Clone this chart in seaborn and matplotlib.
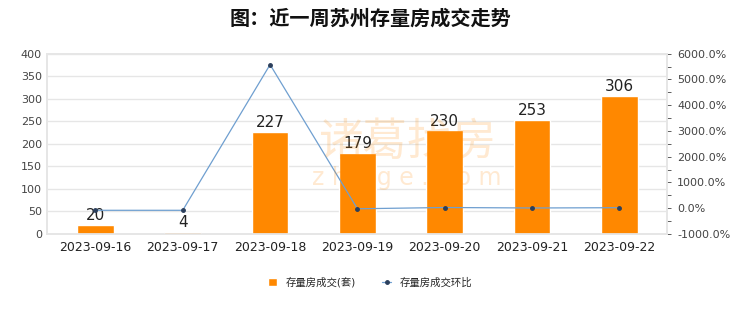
import numpy as np
import pandas as pd
import seaborn as sns
import matplotlib.pyplot as plt
from matplotlib.ticker import MultipleLocator, FuncFormatter

# data
dates = ['2023-09-16', '2023-09-17', '2023-09-18', '2023-09-19',
         '2023-09-20', '2023-09-21', '2023-09-22']
volume = [20, 4, 227, 179, 230, 253, 306]
mom_pct = [-80.0, -80.0, 5575.0, -21.1, 28.5, 10.0, 20.9]

sns.set_theme(style='white')
plt.rcParams['font.family'] = ['DejaVu Sans', 'Noto Sans CJK SC']

df = pd.DataFrame({'date': dates, 'volume': volume, 'mom': mom_pct})

BAR_CLR = '#ff8800'
LINE_CLR = '#6f9fd0'

fig = plt.figure(figsize=(7.4, 3.12), dpi=100)
ax = fig.add_axes([0.064, 0.25, 0.838, 0.578])

sns.barplot(data=df, x='date', y='volume', color=BAR_CLR, width=0.42,
            saturation=1, ax=ax, zorder=3, label='存量房成交(套)')
for i, v in enumerate(volume):
    ax.text(i, v + 4, str(v), ha='center', va='bottom', fontsize=11,
            color='#222222', zorder=5)

ax.set_ylim(0, 400)
ax.yaxis.set_major_locator(MultipleLocator(50))
ax.grid(axis='y', color='#e6e6e6', linewidth=1, zorder=0)
ax.set_xlabel('')
ax.set_ylabel('')
ax.tick_params(axis='x', labelsize=9, colors='#222222', length=0, pad=5)
ax.tick_params(axis='y', labelsize=8, colors='#444444', length=0, pad=4)
for s in ax.spines.values():
    s.set_color('#e6e6e6')

ax2 = ax.twinx()
ax2.plot(range(len(dates)), mom_pct, color=LINE_CLR, linewidth=0.9,
         marker='o', markersize=2.5, markerfacecolor='#2b3f5c',
         markeredgecolor='#2b3f5c', zorder=4, label='存量房成交环比')
ax2.set_ylim(-1000, 6000)
ax2.yaxis.set_major_locator(MultipleLocator(1000))
ax2.yaxis.set_minor_locator(MultipleLocator(500))
ax2.yaxis.set_major_formatter(FuncFormatter(lambda v, p: f'{v:.1f}%'))
ax2.tick_params(axis='y', which='major', labelsize=8, colors='#444444',
                length=3, width=0.6, pad=4)
ax2.tick_params(axis='y', which='minor', length=3, width=0.6, colors='#444444')
ax2.grid(False)
for s in ax2.spines.values():
    s.set_color('#e6e6e6')
ax.set_xlim(-0.55, 6.55)

# watermark
fig.text(0.55, 0.545, '诸葛找房', fontsize=32, color=BAR_CLR, alpha=0.18,
         ha='center', va='center', zorder=10, family='Noto Sans CJK SC')
fig.text(0.55, 0.43, 'z h u g e . c o m', fontsize=17, color=BAR_CLR,
         alpha=0.18, ha='center', va='center', zorder=10)

fig.suptitle('图：近一周苏州存量房成交走势', fontsize=14.5, fontweight='bold',
             y=0.975, color='#111111', family='Noto Sans CJK SC')

h1, l1 = ax.get_legend_handles_labels()
h2, l2 = ax2.get_legend_handles_labels()
if ax.get_legend() is not None:
    ax.get_legend().remove()
fig.legend(h1 + h2, l1 + l2, loc='center', bbox_to_anchor=(0.5, 0.095),
           ncol=2, frameon=False, fontsize=7.5, handlelength=0.9,
           handleheight=0.9, columnspacing=2.5)

plt.savefig('out.png', dpi=100)
